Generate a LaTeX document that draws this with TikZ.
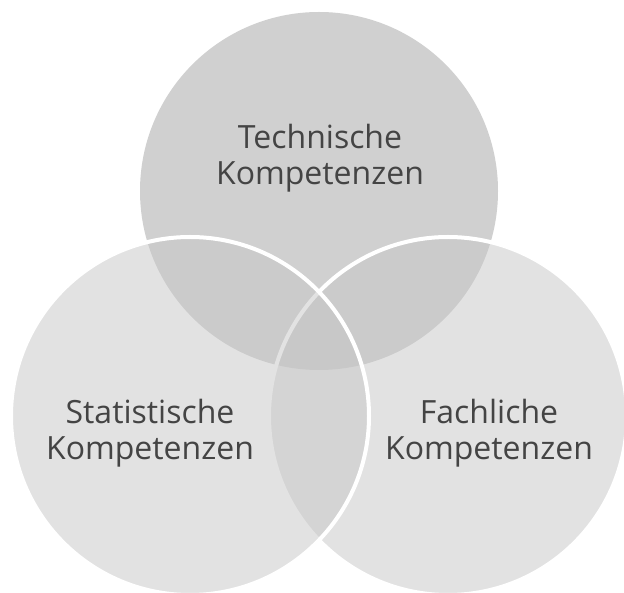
\documentclass[tikz,border=0pt]{standalone}
\usepackage{fontspec}
\setmainfont{Open Sans}
\definecolor{topgray}{HTML}{D0D0D0}
\definecolor{sidegray}{HTML}{C7C7C7}
\definecolor{txt}{HTML}{444444}
\begin{document}
\begin{tikzpicture}[x=1pt,y=1pt,
  setcircle/.style={draw=white,line width=4pt,fill=sidegray,fill opacity=0.5,draw opacity=1},
  lbl/.style={align=center,text=txt,inner sep=0pt,font=\fontsize{32}{36}\selectfont}]
\useasboundingbox (0,0) rectangle (624,592);
\clip (0,0) rectangle (624,592);
\fill[white] (0,0) rectangle (624,592);
\coordinate (ct) at (319,401);
\coordinate (cl) at (190,176);
\coordinate (cr) at (448,176);
\fill[topgray] (ct) circle (179);
\draw[setcircle] (cr) circle (179);
\draw[setcircle] (cl) circle (179);
\node[lbl] (tech) at (320,434) {Technische\\Kompetenzen};
\node[lbl] (stat) at (150,159) {Statistische\\Kompetenzen};
\node[lbl] (fach) at (489,159) {Fachliche\\Kompetenzen};
\end{tikzpicture}
\end{document}
